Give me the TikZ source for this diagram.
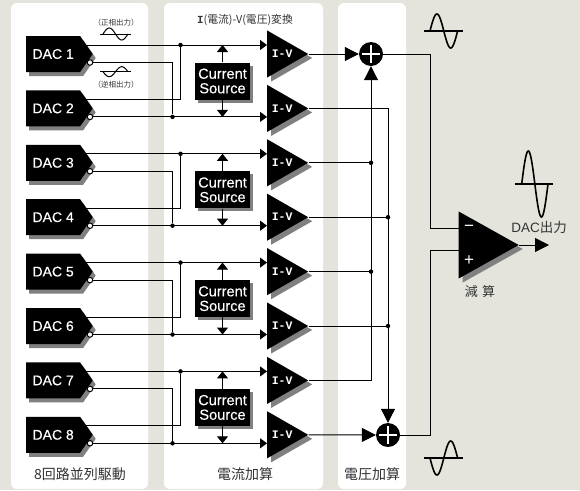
\documentclass[tikz,border=0pt]{standalone}
\usepackage{fontspec}
\setmainfont{Liberation Sans}
\newfontfamily\cjk{Noto Sans CJK JP}
\newfontfamily\slab{Liberation Mono}
\newfontfamily\heavy{Liberation Sans}[FakeBold=0.35]
\usetikzlibrary{arrows.meta,shapes.geometric,shapes.symbols,shadows}
\definecolor{pagegray}{HTML}{E4E4DC}
\definecolor{shadegray}{HTML}{808080}
\definecolor{inkgray}{HTML}{333333}
\newcommand{\fsz}[1]{\fontsize{#1}{#1}\selectfont}
\newcommand{\dacpair}[3]{
    \node[dacbox] (d#1) at (26,#3) {DAC #1\hspace{1pt}};
    \node[dacbox] (d#2) at (26,{#3+54.4}) {DAC #2\hspace{1pt}};
    \node[pinring] (p#1) at (90,{#3+8.5}) {};
    \node[pinring] (p#2) at (90,{#3+62.9}) {};
    \node[ampbox] (a#1) at (267,#3) {I-V};
    \node[ampbox] (a#2) at (267,{#3+54.4}) {I-V};
    \node[sourcebox] (c#1) at (222.5,{#3+27}) {Current\\Source};
    \node[joint] (u#1) at (180.5,{#3-9}) {};
    \node[joint] (v#1) at (172.5,{#3+62.9}) {};
    \coordinate (t#1) at (86,{#3-9});
    \coordinate (t#2) at (86,{#3+45.4});
    \draw[wire,-{Triangle[length=7pt,width=10pt]}] (t#1) -- (a#1.lower side |- t#1);
    \draw[wire] (t#2) -| (u#1);
    \draw[wire] (p#1) -| (v#1);
    \draw[wire,-{Triangle[length=7pt,width=10pt]}] (p#2) -- (a#2.lower side |- p#2);
    \draw[wire,-{Triangle[length=7pt,width=11pt]}] (c#1) -- (c#1 |- t#1);
    \draw[wire,-{Triangle[length=7pt,width=11pt]}] (c#1) -- (c#1 |- p#2);
}
\newcommand{\sinewave}[7]{
    \draw[#7] (#1,#5) -- (#2,#5);
    \draw[#7] plot[domain=0:360,samples=49,smooth] ({#3+(#4-#3)*\x/360},{#5-#6*sin(\x)});
}

\begin{document}
\begin{tikzpicture}[x=1pt,y=-1pt]
    \tikzstyle{panel}=[fill=white,rounded corners=6pt]
    \tikzstyle{wire}=[draw=black,line width=1pt]
    \tikzstyle{sinepen}=[black,line width=1.6pt]
    \tikzstyle{thinpen}=[black,line width=1pt]
    \tikzstyle{dacbox}=[signal,signal to=east,signal from=nowhere,signal pointer angle=110,fill=black,text=white,font=\heavy\fsz{14},minimum width=66.5pt,minimum height=36pt,inner sep=0pt,anchor=west,drop shadow={shadow xshift=3pt,shadow yshift=-4pt,opacity=1,fill=shadegray}]
    \tikzstyle{ampbox}=[isosceles triangle,isosceles triangle stretches,fill=black,text=white,font=\slab\bfseries\fsz{11.5},minimum width=47pt,minimum height=41pt,inner sep=0pt,anchor=lower side,drop shadow={shadow xshift=4pt,shadow yshift=-4pt,opacity=1,fill=shadegray}]
    \tikzstyle{sourcebox}=[rectangle,fill=black,text=white,font=\heavy\fsz{14.6},align=center,minimum width=55pt,minimum height=37pt,inner sep=0pt,drop shadow={shadow xshift=3pt,shadow yshift=-3pt,opacity=1,fill=shadegray}]
    \tikzstyle{pinring}=[circle,draw=black,fill=white,line width=1pt,minimum size=5.5pt,inner sep=0pt]
    \tikzstyle{joint}=[circle,fill=black,minimum size=4.5pt,inner sep=0pt]
    \tikzstyle{sumdot}=[circle,fill=black,minimum size=24pt,inner sep=0pt,path picture={
        \draw[white,line width=2pt] ([xshift=-9pt]path picture bounding box.center) -- ([xshift=9pt]path picture bounding box.center);
        \draw[white,line width=2pt] ([yshift=-9pt]path picture bounding box.center) -- ([yshift=9pt]path picture bounding box.center);
    }]
    \tikzstyle{caption}=[text=inkgray,font=\cjk\fsz{14}]
    \tikzstyle{note}=[text=inkgray,font=\cjk\fsz{7.5}]
    \fill[pagegray] (0,0) rectangle (580,490);
    \fill[panel] (11,3) rectangle (148,489);
    \fill[panel] (164,3) rectangle (323,489);
    \fill[panel] (338,3) rectangle (406,489);
    \dacpair{1}{2}{54}
    \dacpair{3}{4}{162.8}
    \dacpair{5}{6}{271.6}
    \dacpair{7}{8}{380.4}
    \node[sumdot] (s1) at (371,54) {};
    \node[sumdot] (s2) at (388,435) {};
    \node[joint] (k3) at (371,162.8) {};
    \node[joint] (k4) at (388,217.2) {};
    \node[joint] (k5) at (371,271.6) {};
    \node[joint] (k6) at (388,326) {};
    \node[ampbox,minimum width=67pt,minimum height=60pt] (m) at (458.5,245) {};
    \coordinate (b1) at (430,228);
    \coordinate (b2) at (430,250);
    \coordinate (out) at (549,245);
    \draw[wire,-{Triangle[length=14pt,width=14pt]}] (a1.apex) -- (s1);
    \draw[wire,-{Triangle[length=14pt,width=14pt]}] (a7.apex) -| (s1);
    \draw[wire] (a3.apex) -- (k3);
    \draw[wire] (a5.apex) -- (k5);
    \draw[wire,-{Triangle[length=14pt,width=14pt]}] (a2.apex) -| (s2);
    \draw[wire] (a4.apex) -- (k4);
    \draw[wire] (a6.apex) -- (k6);
    \draw[wire,-{Triangle[length=14pt,width=14pt]}] (a8.apex) -- (s2);
    \draw[wire] (s1) -| (b1) -- (m.lower side |- b1);
    \draw[wire] (s2) -| (b2) -- (m.lower side |- b2);
    \draw[wire,-{Triangle[length=14pt,width=14pt]}] (m.apex) -- (out);
    \node[text=white,font=\fsz{17}] (minus) at (469,228) {−};
    \node[text=white,font=\fsz{17}] (plus) at (469,261) {+};
    \sinewave{424}{463}{430}{457.6}{31}{17}{sinepen}
    \sinewave{424}{463}{430}{457.6}{458}{-17}{sinepen}
    \sinewave{515}{553}{521.7}{548}{184}{33}{sinepen}
    \sinewave{100}{131}{103}{128}{34}{6}{thinpen}
    \sinewave{100}{131}{103}{128}{71.7}{-5}{thinpen}
    \node[note] (plusnote) at (116,22.5) {（正相出力）};
    \node[note] (minusnote) at (116,85) {（逆相出力）};
    \node[text=inkgray,font=\cjk\fsz{10.8}] (ivnote) at (245,20) {{\slab\bfseries I}(電流)-V(電圧)変換};
    \node[text=inkgray,font=\fsz{13.5}] (outnote) at (539,227) {DAC{\cjk 出力}};
    \node[text=inkgray,font=\cjk\fsz{13}] (subnote) at (480,292) {減\,\,算};
    \node[caption] (cap1) at (80,474) {8回路並列駆動};
    \node[caption] (cap2) at (245,474) {電流加算};
    \node[caption] (cap3) at (372,474) {電圧加算};
\end{tikzpicture}
\end{document}
